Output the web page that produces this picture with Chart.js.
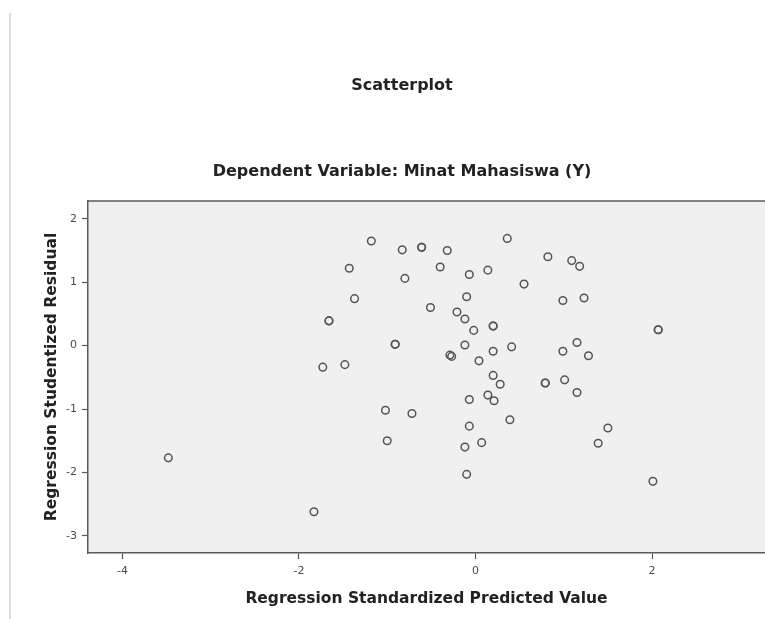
<!DOCTYPE html>
<html>
<head>
<meta charset="utf-8">
<title>Scatterplot</title>
<script src="https://cdn.jsdelivr.net/npm/chart.js@4.4.1/dist/chart.umd.min.js"></script>
<style>
    html, body { margin: 0; padding: 0; background: #fff; }
    #wrap { position: relative; width: 765px; height: 619px; }
    #marco { position: absolute; left: 9px; top: 13px; width: 2px; height: 606px; background: #dcdcdc; }
</style>
</head>
<body>
<div id="wrap">
    <div id="marco"></div>
    <canvas id="grafica"></canvas>
</div>
<script>
/* ==========================================================
DATOS
========================================================== */
const predicho = [
    -3.48, -1.83, -1.73, -1.48, -1.66, -1.66, -1.43, -1.37, -1.18,
    -1.02, -1.00, -0.91, -0.91, -0.83, -0.80, -0.72, -0.61, -0.61,
    -0.51, -0.40, -0.32, -0.29, -0.27, -0.21, -0.12, -0.12, -0.10,
    -0.07, -0.02, -0.07, -0.07, -0.12, -0.10, 0.04, 0.07, 0.14,
    0.14, 0.20, 0.20, 0.20, 0.20, 0.21, 0.28, 0.36, 0.39,
    0.41, 0.55, 0.79, 0.79, 0.82, 0.99, 0.99, 1.01, 1.09,
    1.15, 1.15, 1.18, 1.23, 1.28, 1.39, 1.50, 2.01, 2.07, 2.07
];

const residuo = [
    -1.77, -2.62, -0.34, -0.30, 0.39, 0.39, 1.22, 0.74, 1.65,
    -1.02, -1.50, 0.02, 0.02, 1.51, 1.06, -1.07, 1.55, 1.55,
    0.60, 1.24, 1.50, -0.15, -0.17, 0.53, 0.42, 0.01, 0.77,
    1.12, 0.24, -0.85, -1.27, -1.60, -2.03, -0.24, -1.53, 1.19,
    -0.78, 0.31, 0.31, -0.09, -0.47, -0.87, -0.61, 1.69, -1.17,
    -0.02, 0.97, -0.59, -0.59, 1.40, 0.71, -0.09, -0.54, 1.34,
    0.05, -0.74, 1.25, 0.75, -0.16, -1.54, -1.30, -2.14, 0.25, 0.25
];

const ticksX = [-4, -2, 0, 2];
const ticksY = [-3, -2, -1, 0, 1, 2];

const tituloX = "Regression Standardized Predicted Value";
const tituloY = "Regression Studentized Residual";

/* ========================================================== */
const fuente = "'DejaVu Sans', Verdana, sans-serif";

const fondoPlot = {
    id: "fondoPlot",
    beforeDraw(chart) {
        const { ctx, chartArea: a } = chart;
        ctx.save();
        ctx.fillStyle = "#f0f0f0";
        ctx.fillRect(a.left, a.top, a.right - a.left, a.bottom - a.top);
        ctx.strokeStyle = "#5a5a5a";
        ctx.lineWidth = 1.5;
        ctx.beginPath();
        ctx.moveTo(a.left, a.top);
        ctx.lineTo(a.right, a.top);
        ctx.stroke();
        ctx.restore();
    }
};

const ejeComun = {
    grid: {
        display: true,
        drawOnChartArea: false,
        tickLength: 6,
        tickColor: "#555",
        tickWidth: 1.2
    },
    border: { display: true, color: "#5a5a5a", width: 1.5 },
    ticks: {
        color: "#4a4a4a",
        font: { family: fuente, size: 11 }
    }
};

new Chart(document.getElementById("grafica"), {
    type: "scatter",
    data: {
        datasets: [{
            data: predicho.map((x, i) => ({ x: x, y: residuo[i] })),
            pointStyle: "circle",
            pointRadius: 3.8,
            pointBorderWidth: 1.5,
            pointBorderColor: "#555",
            pointBackgroundColor: "rgba(0,0,0,0)"
        }]
    },
    plugins: [fondoPlot],
    options: {
        responsive: true,
        maintainAspectRatio: false,
        animation: false,
        layout: {
            autoPadding: false,
            padding: { left: 39, right: 0, top: 0, bottom: 0 }
        },
        plugins: {
            legend: { display: false },
            tooltip: { enabled: false },
            title: {
                display: true,
                text: "Scatterplot",
                color: "#222",
                font: { family: fuente, size: 16, weight: "bold", lineHeight: 1.2 },
                padding: { top: 76.4, bottom: 0 }
            },
            subtitle: {
                display: true,
                text: "Dependent Variable: Minat Mahasiswa (Y)",
                color: "#222",
                font: { family: fuente, size: 16, weight: "bold", lineHeight: 1.2 },
                padding: { top: 66.8, bottom: 19.4 }
            }
        },
        scales: {
            x: {
                ...ejeComun,
                type: "linear",
                min: -4.39,
                max: 3.28,
                afterBuildTicks: s => { s.ticks = ticksX.map(v => ({ value: v })); },
                afterFit: s => { s.height = 66; },
                ticks: { ...ejeComun.ticks, padding: 6 },
                title: {
                    display: true,
                    text: tituloX,
                    color: "#222",
                    font: { family: fuente, size: 15.5, weight: "bold", lineHeight: 1.2 },
                    padding: { top: 0, bottom: 10.7 }
                }
            },
            y: {
                ...ejeComun,
                type: "linear",
                min: -3.27,
                max: 2.28,
                afterBuildTicks: s => { s.ticks = ticksY.map(v => ({ value: v })); },
                afterFit: s => { s.width = 49; },
                ticks: { ...ejeComun.ticks, padding: 5 },
                title: {
                    display: true,
                    text: tituloY,
                    color: "#222",
                    font: { family: fuente, size: 15.5, weight: "bold", lineHeight: 1.2 },
                    padding: { top: 4, bottom: 0 }
                }
            }
        }
    }
});
</script>
</body>
</html>
